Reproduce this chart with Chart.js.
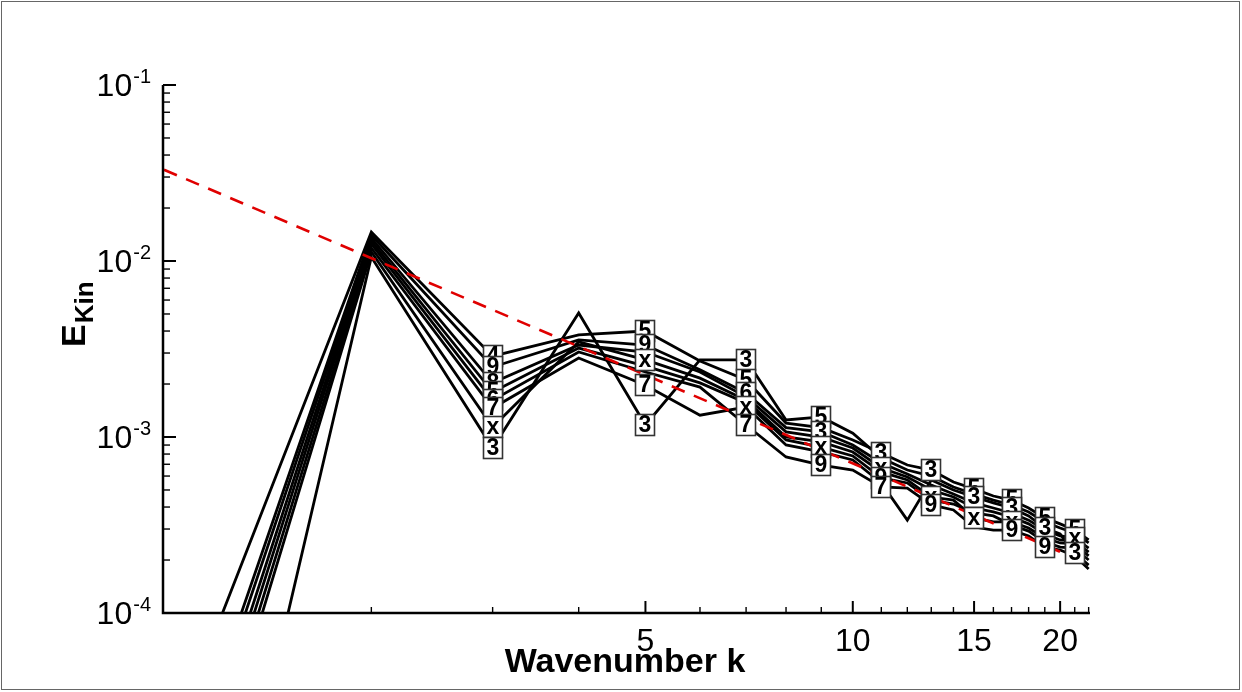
<!DOCTYPE html>
<html><head><meta charset="utf-8">
<script src="https://cdn.jsdelivr.net/npm/chart.js@4.4.0/dist/chart.umd.min.js"></script>
<style>html,body{margin:0;padding:0;background:#fff;}canvas{display:block;}</style>
</head><body>
<canvas id="c" width="1242" height="692"></canvas>
<script>
// ---- data ----
const wavenumbers = [1,2,3,4,5,6,7,8,9,10,11,12,13,14,15,16,17,18,19,20,21,22];
const seriesA = [1.41e-5,0.01462,2.88e-3,3.80e-3,4.00e-3,2.70e-3,2.11e-3,1.20e-3,1.13e-3,9.62e-4,8.11e-4,6.93e-4,6.49e-4,5.55e-4,5.07e-4,4.62e-4,4.38e-4,3.95e-4,3.47e-4,3.21e-4,2.96e-4,2.60e-4];
const seriesB = [5.27e-6,0.01406,2.50e-3,3.56e-3,3.33e-3,2.41e-3,1.78e-3,1.13e-3,1.07e-3,9.01e-4,7.12e-4,6.17e-4,5.34e-4,4.74e-4,4.22e-4,3.95e-4,3.70e-4,3.37e-4,2.96e-4,2.74e-4,2.67e-4,2.34e-4];
const seriesC = [4.2e-6,0.01352,2.03e-3,3.33e-3,3.04e-3,2.34e-3,1.69e-3,1.07e-3,1.00e-3,8.66e-4,6.67e-4,5.93e-4,5.00e-4,4.56e-4,3.95e-4,3.75e-4,3.51e-4,3.21e-4,2.81e-4,2.60e-4,2.57e-4,2.22e-4];
const seriesD = [3.12e-6,0.01300,1.80e-3,3.20e-3,2.53e-3,2.03e-3,1.56e-3,9.62e-4,8.77e-4,7.80e-4,5.85e-4,5.48e-4,4.38e-4,4.16e-4,3.70e-4,3.56e-4,3.16e-4,2.92e-4,2.53e-4,2.37e-4,2.34e-4,2.00e-4];
const seriesE = [2.43e-6,0.01250,1.62e-3,3.04e-3,2.34e-3,1.92e-3,1.17e-3,7.70e-4,6.93e-4,6.49e-4,5.20e-4,5.13e-4,4.11e-4,3.85e-4,3.08e-4,2.96e-4,2.96e-4,2.74e-4,2.37e-4,2.28e-4,2.11e-4,1.78e-4];
const seriesF = [1.85e-6,0.01187,1.46e-3,2.81e-3,1.97e-3,1.33e-3,1.48e-3,9.01e-4,8.22e-4,7.40e-4,5.48e-4,3.37e-4,5.70e-4,5.00e-4,4.56e-4,4.22e-4,3.95e-4,3.56e-4,3.04e-4,2.81e-4,2.19e-4,1.87e-4];
const seriesG = [1.42e-6,0.01125,1.14e-3,3.47e-3,2.74e-3,2.16e-3,1.62e-3,1.00e-3,9.37e-4,8.22e-4,6.33e-4,5.70e-4,4.56e-4,4.38e-4,3.47e-4,3.29e-4,3.29e-4,3.04e-4,2.67e-4,2.50e-4,2.47e-4,2.11e-4];
const seriesH = [9.7e-8,0.01054,8.65e-4,5.07e-3,1.17e-3,2.74e-3,2.74e-3,1.25e-3,1.30e-3,1.05e-3,7.60e-4,6.49e-4,6.00e-4,5.20e-4,4.74e-4,4.38e-4,4.11e-4,3.75e-4,3.29e-4,3.04e-4,2.85e-4,2.50e-4];

// zone labels shown at odd wavenumbers
const labelWavenumbers = [3,5,7,9,11,13,15,17,19,21];
const labelsA = ['4','5','5',null,'3','3','5','5','5','5'];
const labelsB = ['9','9','6','3',null,null,null,null,null,'x'];
const labelsC = ['8',null,null,null,'x',null,null,null,null,null];
const labelsD = ['5',null,null,'x','9',null,null,null,null,null];
const labelsE = ['6',null,'7','9','7','9',null,'9','9',null];
const labelsF = ['7','7','x',null,null,null,'3','3','3','3'];
const labelsG = ['x','x',null,null,null,'x','x','x',null,null];
const labelsH = ['3','3','3','5',null,null,null,null,null,null];

// dashed reference line (end points)
const refK = [1, 22];
const refE = [0.033, 1.9e-4];

// axis ticks
const xMajorTicks = [5,10,15,20];
const xMinorTicks = [2,3,4,6,7,8,9,11,12,13,14,16,17,18,19,21,22];
const yDecades = [1e-1,1e-2,1e-3,1e-4];
const yDecadeExponents = ['-1','-2','-3','-4'];

const seriesList = [seriesA,seriesB,seriesC,seriesD,seriesE,seriesF,seriesG,seriesH];
const labelList = [labelsA,labelsB,labelsC,labelsD,labelsE,labelsF,labelsG,labelsH];

const datasets = [{
  data: refK.map((k,i)=>({x:k,y:refE[i]})),
  borderColor:'#e00000', borderWidth:2.6, borderDash:[14,10], order:0, pointRadius:0
}];
seriesList.forEach(s=>{
  datasets.push({data: wavenumbers.map((k,i)=>({x:k,y:s[i]})), borderColor:'#000', borderWidth:2.8, order:1, pointRadius:0});
});

const FONT = '"Liberation Sans", Arial, Helvetica, sans-serif';

const decorPlugin = {
  id:'decor',
  afterDatasetsDraw(chart){
    const c = chart.ctx, xs = chart.scales.x, ys = chart.scales.y;
    labelWavenumbers.forEach((k,li)=>{
      const items = [];
      seriesList.forEach((s,si)=>{
        const t = labelList[si][li];
        if (t) items.push({v:s[wavenumbers.indexOf(k)], t});
      });
      items.sort((a,b)=>b.v-a.v);
      items.forEach(it=>{
        const px = Math.round(xs.getPixelForValue(k)), py = Math.round(ys.getPixelForValue(it.v));
        const w=19, h=21;
        c.save();
        c.fillStyle='#fff';
        c.fillRect(px-w/2, py-h/2, w, h);
        c.strokeStyle='#333'; c.lineWidth=1.6;
        c.strokeRect(px-w/2, py-h/2, w, h);
        c.fillStyle='#000';
        c.font='bold 23px '+FONT;
        c.textAlign='center'; c.textBaseline='middle';
        c.fillText(it.t, px, py+1);
        c.restore();
      });
    });
  },
  afterDraw(chart){
    const c = chart.ctx, xs = chart.scales.x, ys = chart.scales.y, a = chart.chartArea;
    c.save();
    // frame
    c.strokeStyle='#666'; c.lineWidth=1;
    c.strokeRect(1.5,1.5,1238,688);
    // axes
    c.strokeStyle='#000'; c.lineWidth=2.5;
    c.beginPath();
    c.moveTo(a.left-1, a.top); c.lineTo(a.left-1, a.bottom);
    c.lineTo(a.right, a.bottom);
    c.stroke();
    // y ticks
    c.lineWidth=2;
    yDecades.forEach(d=>{
      const y = ys.getPixelForValue(d);
      c.beginPath(); c.moveTo(a.left-1,y); c.lineTo(a.left+12,y); c.stroke();
    });
    c.lineWidth=1.4;
    yDecades.slice(1).forEach(d=>{
      for(let m=2;m<=9;m++){
        const y = ys.getPixelForValue(d*m);
        c.beginPath(); c.moveTo(a.left-1,y); c.lineTo(a.left+6,y); c.stroke();
      }
    });
    // x ticks
    c.lineWidth=2;
    xMajorTicks.forEach(k=>{
      const x = xs.getPixelForValue(k);
      c.beginPath(); c.moveTo(x,a.bottom); c.lineTo(x,a.bottom-12); c.stroke();
    });
    c.lineWidth=1.4;
    xMinorTicks.forEach(k=>{
      const x = xs.getPixelForValue(k);
      c.beginPath(); c.moveTo(x,a.bottom); c.lineTo(x,a.bottom-6); c.stroke();
    });
    // x tick labels
    c.fillStyle='#000';
    c.font='32px '+FONT; c.textAlign='center'; c.textBaseline='alphabetic';
    xMajorTicks.forEach(k=>{ c.fillText(String(k), xs.getPixelForValue(k), a.bottom+38); });
    // y tick labels
    yDecades.forEach((d,i)=>{
      const y = ys.getPixelForValue(d);
      c.font='20px '+FONT; c.textAlign='right';
      const supW = c.measureText(yDecadeExponents[i]).width;
      c.fillText(yDecadeExponents[i], 151, y-2);
      c.font='32px '+FONT;
      c.fillText('10', 151-supW-1, y+11);
    });
    // x title
    c.font='bold 34px '+FONT; c.textAlign='center';
    c.fillText('Wavenumber k', 625, 672);
    // y title
    c.save();
    c.translate(85, 347); c.rotate(-Math.PI/2);
    c.textAlign='left';
    c.font='bold 34px '+FONT;
    c.fillText('E', 0, 0);
    const ew = c.measureText('E').width;
    c.font='bold 26px '+FONT;
    c.fillText('Kin', ew+1, 8);
    c.restore();
    c.restore();
  }
};

new Chart(document.getElementById('c'), {
  type:'line',
  data:{datasets},
  options:{
    responsive:false, animation:false, devicePixelRatio:1,
    layout:{padding:{left:164,right:152,top:85,bottom:79}},
    plugins:{legend:{display:false}, tooltip:{enabled:false}},
    scales:{
      x:{type:'logarithmic', min:1, max:22.1, display:false},
      y:{type:'logarithmic', min:1e-4, max:1e-1, display:false}
    },
    elements:{line:{tension:0}, point:{radius:0}}
  },
  plugins:[decorPlugin]
});
</script>
</body></html>
